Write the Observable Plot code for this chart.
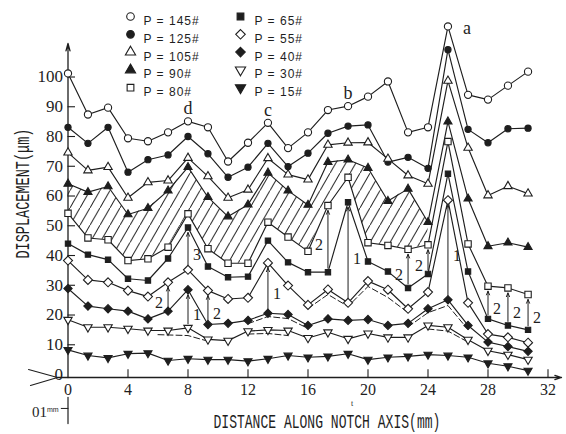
<!DOCTYPE html>
<html>
<head>
<meta charset="utf-8">
<script src="https://cdn.jsdelivr.net/npm/d3@7"></script>
<script src="https://cdn.jsdelivr.net/npm/@observablehq/plot@0.6"></script>
<style>
html,body{margin:0;padding:0;background:#fff;}
#chart svg{display:block;}
</style>
</head>
<body>
<div id="chart"></div>
<script>
// ---------- data ----------
const positions = [0, 1.33, 2.67, 4, 5.33, 6.67, 8, 9.33, 10.67, 12, 13.33, 14.67, 16, 17.33, 18.67, 20, 21.33, 22.67, 24, 25.33, 26.67, 28, 29.33, 30.67];
const p145 = [101.2, 87.4, 89.7, 79.4, 78.4, 81.4, 85.1, 83.1, 71.6, 77.9, 84.6, 76.1, 81.4, 88.9, 90.2, 93.4, 98.5, 81.4, 83.1, 117.0, 94.0, 92.4, 97.1, 101.8];
const p125 = [83.1, 77.7, 83.1, 68.0, 72.2, 73.8, 80.0, 74.2, 66.3, 69.7, 77.7, 69.9, 74.4, 81.1, 83.5, 83.9, 71.4, 73.0, 69.3, 109.2, 82.4, 77.9, 82.6, 82.8];
const p105 = [74.6, 68.6, 69.7, 59.4, 64.6, 65.2, 72.8, 66.6, 59.4, 62.1, 72.7, 67.2, 65.5, 77.2, 77.9, 78.0, 72.5, 66.9, 64.1, 98.7, 76.2, 60.2, 63.3, 60.8];
const p90  = [64.1, 61.3, 63.2, 53.8, 55.9, 61.8, 69.7, 59.6, 53.1, 57.1, 67.8, 61.8, 57.0, 71.4, 72.2, 69.4, 58.3, 62.4, 51.2, 85.0, 59.1, 43.1, 44.3, 42.8];
const p80  = [54.2, 45.9, 45.3, 38.3, 38.9, 42.8, 54.0, 42.3, 37.4, 37.4, 51.2, 46.2, 41.4, 56.8, 66.3, 44.3, 43.4, 42.1, 43.6, 78.3, 43.9, 29.7, 29.1, 26.9];
const p65  = [44.0, 40.3, 38.6, 32.2, 31.6, 39.0, 49.4, 36.3, 32.7, 32.9, 45.0, 37.7, 34.4, 34.4, 57.9, 38.0, 34.6, 29.1, 33.8, 67.5, 34.6, 18.7, 16.5, 15.0];
const p55  = [38.3, 31.8, 31.0, 28.2, 26.2, 31.0, 35.2, 28.2, 25.4, 25.8, 37.5, 29.9, 23.4, 28.6, 24.1, 31.4, 28.5, 22.1, 27.7, 58.6, 24.1, 13.6, 12.5, 10.7];
const p40  = [28.9, 23.0, 22.1, 21.3, 18.7, 21.3, 28.5, 16.8, 17.2, 18.2, 20.6, 20.2, 16.5, 18.7, 18.2, 18.5, 16.5, 17.2, 22.1, 25.1, 16.5, 10.9, 9.4, 7.8];
const p30  = [18.4, 15.9, 15.9, 15.4, 14.8, 14.8, 15.7, 11.8, 11.4, 14.6, 15.0, 14.8, 12.3, 14.2, 12.0, 13.8, 12.5, 12.5, 16.5, 15.9, 11.7, 8.0, 6.7, 5.0];
const p15  = [8.3, 6.4, 5.6, 7.0, 7.2, 4.7, 5.3, 5.0, 5.0, 4.5, 5.3, 6.4, 5.8, 6.1, 7.0, 5.0, 5.8, 6.1, 6.7, 6.4, 5.8, 3.8, 2.8, 1.3];

const seriesKeys = ["145#", "125#", "105#", "90#", "80#", "65#", "55#", "40#", "30#", "15#"];
const seriesValues = [p145, p125, p105, p90, p80, p65, p55, p40, p30, p15];
const legendLabels = ["P = 145#", "P = 125#", "P = 105#", "P = 90#", "P = 80#", "P = 65#", "P = 55#", "P = 40#", "P = 30#", "P = 15#"];

// dashed companion curves [distance, displacement]
const dashed30a = [[6.0, 13.4], [8.0, 13.1], [9.33, 11.2]];
const dashed30b = [[12.0, 13.6], [13.33, 13.8], [14.67, 13.1]];
const dashed40a = [[12.0, 17.1], [13.33, 19.5], [14.67, 18.8], [16.0, 15.5]];
const dashed55  = [[16.0, 22.2], [17.33, 26.9], [18.67, 22.9], [20.0, 29.6], [21.33, 25.9], [22.67, 20.8]];
const dashed40b = [[22.67, 16.0], [24.0, 20.8], [25.33, 23.2], [26.67, 15.1]];
const dashed30c = [[24.0, 15.3], [25.33, 14.6], [26.67, 10.9]];

// arrows: [point index, from series, to series, label]
const arrowLinks = [
  [5, "40#", "55#", "2"], [6, "30#", "40#", "1"], [6, "55#", "65#", "3"], [7, "40#", "55#", "2"],
  [10, "40#", "55#", "1"], [13, "65#", "80#", "2"], [14, "55#", "65#", "1"], [17, "65#", "80#", "2"],
  [18, "65#", "80#", "2"], [19, "40#", "55#", "1"], [21, "65#", "80#", "2"], [22, "65#", "80#", "2"],
  [23, "65#", "80#", "2"]
];
const arrowLabelLeft = [5, 13, 17, 18];

const pointLabels = [["d", 6], ["c", 10], ["b", 14]];
const peakLabel = [["a", 19]];
const hatchLastIndex = 18;

const xTicks = [0, 4, 8, 12, 16, 20, 24, 28, 32];
const yTicks = [0, 10, 20, 30, 40, 50, 60, 70, 80, 90, 100];
const xTitle = "DISTANCE ALONG NOTCH AXIS(mm)";
const yTitle = "DISPLACEMENT(μm)";

// ---------- styling ----------
const ink = "#1e1e1e";
const serif = "Liberation Serif, 'Times New Roman', serif";
const mono = "Liberation Mono, 'DejaVu Sans Mono', monospace";
const sans = "Liberation Sans, Arial, sans-serif";

const triangleDown = {
  draw(ctx, size) {
    const y = -Math.sqrt(size / (3 * Math.sqrt(3)));
    ctx.moveTo(0, -2 * y);
    ctx.lineTo(-Math.sqrt(3) * y, y);
    ctx.lineTo(Math.sqrt(3) * y, y);
    ctx.closePath();
  }
};
const diamond = {
  draw(ctx, size) {
    const h = Math.sqrt(size / 2);
    ctx.moveTo(0, -h); ctx.lineTo(h, 0); ctx.lineTo(0, h); ctx.lineTo(-h, 0); ctx.closePath();
  }
};
const styleOf = {
  "145#": {symbol: d3.symbolCircle, fill: "white", r: 3.6},
  "125#": {symbol: d3.symbolCircle, fill: ink, r: 3.1},
  "105#": {symbol: d3.symbolTriangle, fill: "white", r: 3.1},
  "90#":  {symbol: d3.symbolTriangle, fill: ink, r: 3.0},
  "80#":  {symbol: d3.symbolSquare, fill: "white", r: 3.6},
  "65#":  {symbol: d3.symbolSquare, fill: ink, r: 3.0},
  "55#":  {symbol: diamond, fill: "white", r: 3.6},
  "40#":  {symbol: diamond, fill: ink, r: 3.3},
  "30#":  {symbol: triangleDown, fill: "white", r: 3.1},
  "15#":  {symbol: triangleDown, fill: ink, r: 3.0}
};

// ---------- derived tables ----------
const valueOf = (key, i) => seriesValues[seriesKeys.indexOf(key)][i];
const rows = seriesKeys.flatMap((key, k) => positions.map((x, i) => ({series: key, x, y: seriesValues[k][i]})));
const hatchRows = positions.slice(0, hatchLastIndex + 1).map((x, i) => ({x, lo: p80[i], hi: p90[i]}));
const dashedRows = [dashed30a, dashed30b, dashed40a, dashed55, dashed40b, dashed30c]
  .flatMap((seg, s) => seg.map(([x, y]) => ({seg: s, x, y})));
const arrowRows = arrowLinks.map(([i, from, to, label]) => ({
  i, x: positions[i], y1: valueOf(from, i), y2: valueOf(to, i), label,
  left: arrowLabelLeft.includes(i)
}));
const letterRows = pointLabels.map(([t, i]) => ({t, x: positions[i], y: p145[i]}));
const peakRows = peakLabel.map(([t, i]) => ({t, x: positions[i], y: p145[i]}));

const marks = [
  // hatched band
  Plot.areaY(hatchRows, {x: "x", y1: "lo", y2: "hi", fill: "url(#hatch)"}),
  // axes lines
  Plot.arrow([0], {x1: -0.7, x2: 32.9, y1: -1, y2: -1, stroke: ink, strokeWidth: 1.3, headLength: 8, headAngle: 35}),
  Plot.arrow([0], {x1: 0, x2: 0, y1: -1, y2: 111.3, stroke: ink, strokeWidth: 1.3, headLength: 9, headAngle: 30}),
  Plot.line([[-2.63, 1.7], [-0.7, -1]], {stroke: ink, strokeWidth: 1.1}),
  Plot.line([[-2.5, -3.7], [-0.7, -1]], {stroke: ink, strokeWidth: 1.1}),
  Plot.ruleX(xTicks.filter(d => d > 0), {y1: -1, y2: 1.6, stroke: ink, strokeWidth: 1.1}),
  Plot.ruleY(yTicks.filter(d => d > 0), {x1: 0, x2: 0.5, stroke: ink, strokeWidth: 1.1}),
  Plot.text(xTicks, {x: d => d, y: -1, dy: 12, text: d => String(d), fontFamily: serif, fontSize: 16, fill: ink}),
  Plot.text(yTicks, {x: 0, y: d => d, dx: -5, text: d => String(d), textAnchor: "end", fontFamily: serif, fontSize: 17, fill: ink}),
  // scale bar 0.1 mm
  Plot.line([[0, -7.7], [0, -16.5]], {stroke: ink, strokeWidth: 1.2}),
  Plot.line([[-0.45, -11.4], [0, -11.4]], {stroke: ink, strokeWidth: 1}),
  Plot.text(["01"], {frameAnchor: "bottom-left", dx: -36, dy: 39, fontFamily: serif, fontSize: 15, fill: ink}),
  Plot.text(["mm"], {frameAnchor: "bottom-left", dx: -21, dy: 34, fontFamily: sans, fontSize: 7, fill: ink}),
  Plot.text(["t"], {frameAnchor: "bottom-left", dx: 283, dy: 28, fontFamily: serif, fontSize: 8, fill: ink}),
  // titles (start-anchored, then condensed to the reference length)
  Plot.text([xTitle], {frameAnchor: "bottom-left", dx: 145.5, dy: 50, textAnchor: "start", fontFamily: mono, fontSize: 21, fill: ink}),
  Plot.text([yTitle], {frameAnchor: "left", rotate: -90, dx: -45, dy: 61, textAnchor: "start", fontFamily: mono, fontSize: 20, fill: ink}),
  // dashed companion curves
  Plot.line(dashedRows, {x: "x", y: "y", z: "seg", stroke: ink, strokeWidth: 1, strokeDasharray: "6,3"}),
  // series lines
  Plot.line(rows, {x: "x", y: "y", z: "series", stroke: ink, strokeWidth: 1.15}),
  // arrows between series
  Plot.arrow(arrowRows, {x1: "x", x2: "x", y1: "y1", y2: "y2", insetStart: 4, insetEnd: 5, headLength: 6, headAngle: 45, stroke: ink, strokeWidth: 1}),
  Plot.text(arrowRows.filter(d => !d.left), {x: "x", y: d => (d.y1 + d.y2) / 2, text: "label", dx: 9, dy: 6, fontFamily: serif, fontSize: 16, fill: ink}),
  Plot.text(arrowRows.filter(d => d.left), {x: "x", y: d => (d.y1 + d.y2) / 2, text: "label", dx: -9, dy: 6, fontFamily: serif, fontSize: 16, fill: ink}),
  // markers
  ...seriesKeys.map(key => Plot.dot(rows.filter(d => d.series === key), {
    x: "x", y: "y", symbol: styleOf[key].symbol, fill: styleOf[key].fill, r: styleOf[key].r, stroke: ink, strokeWidth: 1.1
  })),
  // letters
  Plot.text(letterRows, {x: "x", y: "y", text: "t", dy: -13, fontFamily: serif, fontSize: 18, fill: ink}),
  Plot.text(peakRows, {x: "x", y: "y", text: "t", dx: 19, dy: 2, fontFamily: serif, fontSize: 18, fill: ink}),
  // legend
  ...legendLabels.flatMap((lab, k) => {
    const col = Math.floor(k / 5), row = k % 5, key = seriesKeys[k];
    return [
      Plot.dot([lab], {frameAnchor: "top-left", dx: 62.5 + col * 110, dy: -1 + row * 17.8,
        symbol: styleOf[key].symbol, fill: styleOf[key].fill, r: 3.8, stroke: ink, strokeWidth: 1.1}),
      Plot.text([lab], {frameAnchor: "top-left", dx: 75.5 + col * 111, dy: -1 + row * 17.8, text: d => d,
        textAnchor: "start", fontFamily: sans, fontSize: 12, fill: ink})
    ];
  })
];

const svg = Plot.plot({
  width: 566, height: 434,
  marginLeft: 67.5, marginRight: 18.5, marginTop: 17, marginBottom: 57,
  x: {domain: [0, 32], axis: null},
  y: {domain: [-1, 120], axis: null},
  style: {background: "white", overflow: "visible"},
  marks
});

// hatch pattern: "/" lines at 60 degrees, 10 px apart horizontally
const defs = d3.select(svg).insert("defs", ":first-child");
const hw = 10, hh = 10 * Math.sqrt(3);
const pat = defs.append("pattern").attr("id", "hatch").attr("patternUnits", "userSpaceOnUse")
  .attr("width", hw).attr("height", hh);
pat.append("line").attr("x1", -1).attr("y1", hh + Math.sqrt(3)).attr("x2", hw + 1).attr("y2", -Math.sqrt(3))
  .attr("stroke", ink).attr("stroke-width", 1);

document.getElementById("chart").appendChild(svg);

// condense the typewriter-like titles to the reference lengths (scale along the text direction)
const targetLength = {[xTitle]: 227, [yTitle]: 130};
d3.select(svg).selectAll("text").each(function () {
  const t = this.textContent;
  if (t in targetLength) {
    const natural = this.getComputedTextLength();
    if (natural > 0) {
      const s = targetLength[t] / natural;
      const tr = this.getAttribute("transform") || "";
      this.setAttribute("transform", (tr + ` scale(${s},1)`).trim());
    }
  }
  if (t.startsWith("P = ")) d3.select(this).style("letter-spacing", "1px");
});
</script>
</body>
</html>
